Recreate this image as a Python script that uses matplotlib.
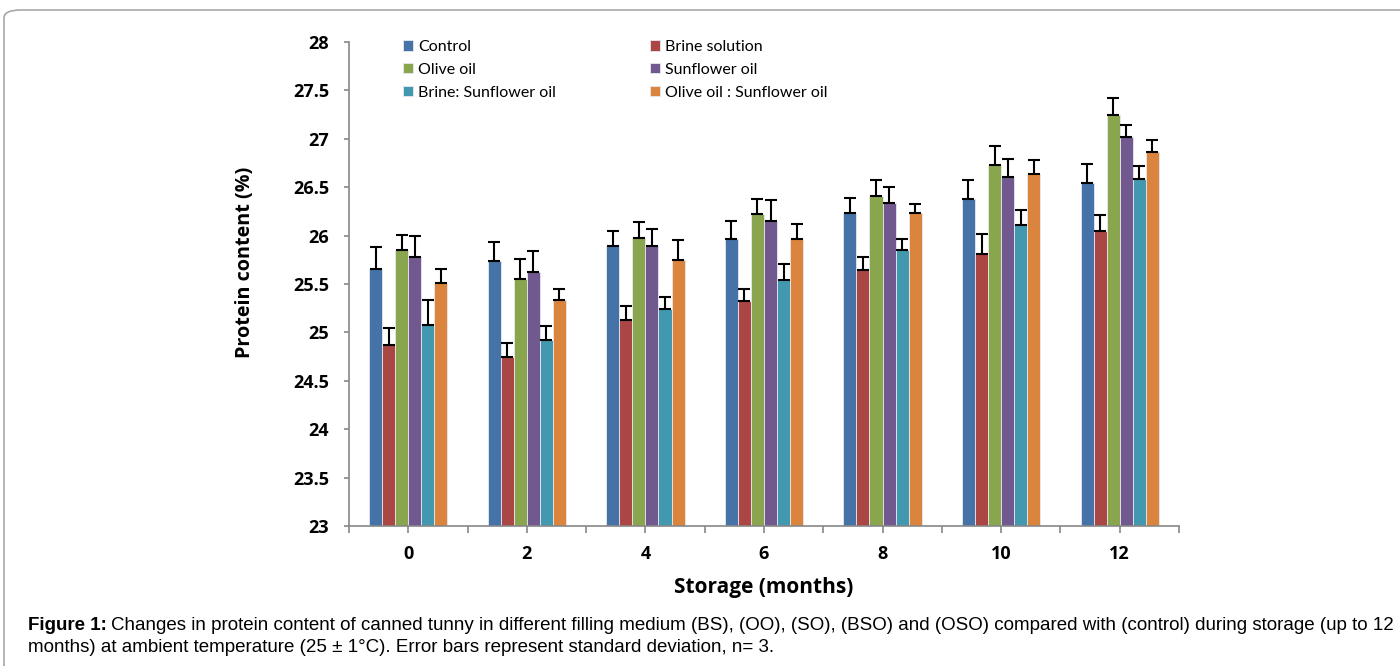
import numpy as np
import matplotlib
matplotlib.use("Agg")
import matplotlib.pyplot as plt
from matplotlib.patches import FancyBboxPatch

# ---------------------------------------------------------------------------
# Data: protein content (%) per filling medium, mean and SD
# ---------------------------------------------------------------------------
months = ["0", "2", "4", "6", "8", "10", "12"]

series_names = ["Control", "Brine solution", "Olive oil", "Sunflower oil",
                "Brine: Sunflower oil", "Olive oil : Sunflower oil"]

control   = [25.66, 25.74, 25.89, 25.96, 26.23, 26.38, 26.54]
brine     = [24.87, 24.75, 25.13, 25.32, 25.64, 25.81, 26.05]
olive     = [25.85, 25.55, 25.98, 26.22, 26.41, 26.73, 27.25]
sunflower = [25.78, 25.62, 25.89, 26.15, 26.34, 26.61, 27.02]
brine_so  = [25.08, 24.92, 25.24, 25.54, 25.85, 26.11, 26.58]
olive_so  = [25.51, 25.33, 25.75, 25.96, 26.23, 26.64, 26.86]

control_sd   = [0.22, 0.19, 0.16, 0.19, 0.16, 0.19, 0.20]
brine_sd     = [0.18, 0.14, 0.14, 0.13, 0.14, 0.21, 0.16]
olive_sd     = [0.16, 0.21, 0.16, 0.16, 0.16, 0.20, 0.17]
sunflower_sd = [0.22, 0.22, 0.18, 0.22, 0.16, 0.18, 0.12]
brine_so_sd  = [0.26, 0.15, 0.13, 0.17, 0.12, 0.15, 0.14]
olive_so_sd  = [0.15, 0.12, 0.20, 0.16, 0.10, 0.14, 0.13]

means = [control, brine, olive, sunflower, brine_so, olive_so]
sds = [control_sd, brine_sd, olive_sd, sunflower_sd, brine_so_sd, olive_so_sd]
colors = ["#4572A7", "#AA4643", "#89A54E", "#71588F", "#4198AF", "#DB843D"]

Y_MIN, Y_MAX = 23, 28
BAR_W = 0.11
BOLD_FONT = "Open Sans"
LEG_FONT = "Lato"
CAP_FONT = "Liberation Sans"

# ---------------------------------------------------------------------------
# Figure
# ---------------------------------------------------------------------------
fig = plt.figure(figsize=(14, 6.66), dpi=100)
ax = fig.add_axes([0.2493, 0.2102, 0.5928, 0.7267])

# rounded frame around the figure panel
frame = FancyBboxPatch((4 / 1400, -0.2), 1.2, 1 - 10 / 666 + 0.2,
                       boxstyle="round,pad=0,rounding_size=0.012",
                       transform=fig.transFigure, fill=False,
                       edgecolor="#a8a8a8", linewidth=1.2, clip_on=False)
fig.patches.append(frame)

x = np.arange(len(months))
handles = []
for i, (vals, err, col, name) in enumerate(zip(means, sds, colors, series_names)):
    pos = x + (i - 2.5) * BAR_W
    vals = np.array(vals)
    b = ax.bar(pos, vals - Y_MIN, bottom=Y_MIN, width=BAR_W, color=col,
               edgecolor="#e8e8f0", linewidth=0.6, label=name, zorder=2)
    ax.errorbar(pos, vals, yerr=[np.zeros_like(vals), err], fmt="none",
                ecolor="black", elinewidth=1.5, capsize=4, capthick=1.5, zorder=3)
    handles.append(b)

ax.set_xlim(-0.5, len(months) - 0.5)
ax.set_ylim(Y_MIN, Y_MAX)
ax.set_yticks(np.arange(23, 28.01, 0.5))
ax.set_yticklabels(["23", "23.5", "24", "24.5", "25", "25.5", "26",
                    "26.5", "27", "27.5", "28"])
ax.set_xticks(x)
ax.set_xticklabels(months)
ax.set_xticks(np.arange(-0.5, len(months), 1.0), minor=True)

for lab in ax.get_yticklabels() + ax.get_xticklabels():
    lab.set_fontfamily(BOLD_FONT)
    lab.set_fontweight("bold")
    lab.set_fontsize(13)

ax.tick_params(axis="y", direction="out", length=3.8, width=1.2, color="#888888", pad=10.5)
ax.tick_params(axis="x", which="both", direction="out", length=5, width=1.2,
               color="#888888", pad=9)

for side in ["top", "right"]:
    ax.spines[side].set_visible(False)
for side in ["left", "bottom"]:
    ax.spines[side].set_color("#888888")
    ax.spines[side].set_linewidth(1.2)

ax.set_ylabel("Protein content (%)", fontfamily=BOLD_FONT, fontweight="bold",
              fontsize=14.2)
ax.yaxis.set_label_coords(-0.1133, 0.5444)
ax.set_xlabel("Storage (months)", fontfamily=BOLD_FONT, fontweight="bold",
              fontsize=15, labelpad=9.5)

# legend laid out row-wise: two entries per row
order = [0, 2, 4, 1, 3, 5]
ax.legend([handles[k] for k in order], [series_names[k] for k in order],
          ncol=2, loc="upper left", bbox_to_anchor=(403 / 1400, 1 - 40 / 666),
          bbox_transform=fig.transFigure, frameon=False,
          prop={"family": LEG_FONT, "size": 11.5},
          handlelength=0.63, handleheight=0.63, handletextpad=0.3,
          columnspacing=5.9, labelspacing=0.55, borderaxespad=0, borderpad=0)

# caption below the chart
cap_y1 = 1 - 625 / 666
cap_y2 = 1 - 648 / 666
head = fig.text(28 / 1400, cap_y1, "Figure 1:", fontfamily=CAP_FONT,
                fontweight="bold", fontsize=13.5, va="center")
renderer = fig.canvas.get_renderer()
head_end = head.get_window_extent(renderer).x1 / fig.bbox.width
fig.text(head_end + 4 / 1400, cap_y1,
         "Changes in protein content of canned tunny in different filling medium "
         "(BS), (OO), (SO), (BSO) and (OSO) compared with (control) during storage (up to 12",
         fontfamily=CAP_FONT, fontsize=13.5, va="center")
fig.text(28 / 1400, cap_y2,
         "months) at ambient temperature (25 \u00b1 1\u00b0C). Error bars represent standard "
         "deviation, n= 3.",
         fontfamily=CAP_FONT, fontsize=13.5, va="center")

fig.savefig("out.png", dpi=100)
